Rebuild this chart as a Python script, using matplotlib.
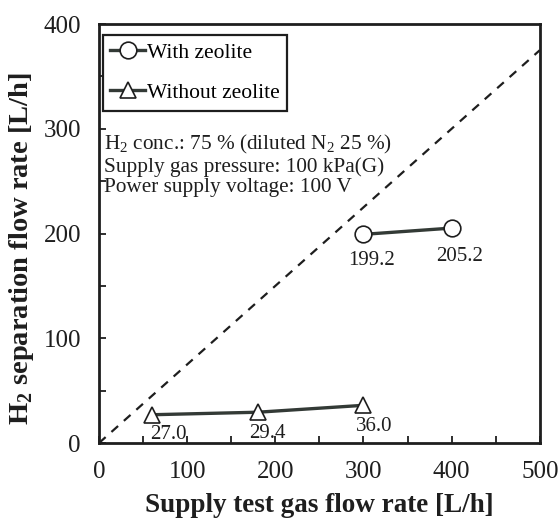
import matplotlib
matplotlib.use("Agg")
import matplotlib.pyplot as plt
from matplotlib.ticker import MultipleLocator

plt.rcParams["font.family"] = ["Liberation Serif", "DejaVu Serif"]
plt.rcParams["mathtext.fontset"] = "custom"
plt.rcParams["mathtext.rm"] = "Liberation Serif"
plt.rcParams["mathtext.bf"] = "Liberation Serif:bold"

# data
with_x = [300, 400]
with_y = [199.2, 205.2]
without_x = [60, 180, 300]
without_y = [27.0, 29.4, 36.0]
ratio_x = [0, 500]
ratio_y = [0, 375]   # 75 % H2 line

# label offsets (pixels) from each point
with_off = [(8, -17), (8, -19)]
without_off = [(16, -10), (10, -12), (11, -12)]

INK = "#1e1e1e"
LINE = "#333a36"

fig = plt.figure(figsize=(5.58, 5.22), dpi=100)
ax = fig.add_axes([0.1774, 0.1513, 0.790, 0.8027])

ax.plot(ratio_x, ratio_y, ls=(0, (4, 3.5)), color=INK, lw=1.6, zorder=2)
ax.plot(with_x, with_y, "-o", color=LINE, lw=2.4, ms=12, mfc="white",
        mec=INK, mew=1.2, label="With zeolite", zorder=3)
ax.plot(without_x, without_y, "-^", color=LINE, lw=2.4, ms=12, mfc="white",
        mec=INK, mew=1.2, label="Without zeolite", zorder=3)

for x, y, off in zip(with_x, with_y, with_off):
    ax.annotate(f"{y:.1f}", (x, y), xytext=off, textcoords="offset pixels",
                ha="center", va="top", fontsize=15, color=INK)
for x, y, off in zip(without_x, without_y, without_off):
    ax.annotate(f"{y:.1f}", (x, y), xytext=off, textcoords="offset pixels",
                ha="center", va="top", fontsize=15, color=INK)

ax.text(6, 296, "H$_2$ conc.: 75 % (diluted N$_2$ 25 %)\n"
        "Supply gas pressure: 100 kPa(G)\nPower supply voltage: 100 V",
        ha="left", va="top", fontsize=15.3, color=INK, linespacing=1.08)

ax.set_xlim(0, 500)
ax.set_ylim(0, 400)
ax.xaxis.set_major_locator(MultipleLocator(100))
ax.xaxis.set_minor_locator(MultipleLocator(50))
ax.yaxis.set_major_locator(MultipleLocator(100))
ax.yaxis.set_minor_locator(MultipleLocator(50))
ax.tick_params(which="both", direction="in", length=5, width=1.3, labelsize=18,
               colors=INK, pad=13, top=False, right=False)
for s in ax.spines.values():
    s.set_linewidth(2)
    s.set_color(INK)

ax.set_xlabel("Supply test gas flow rate [L/h]", fontsize=19.5, fontweight="bold",
              color=INK, labelpad=7)
ax.set_ylabel("H$_\\mathbf{2}$ separation flow rate [L/h]", fontsize=20.5,
              fontweight="bold", color=INK)
ax.yaxis.set_label_coords(-0.142, 0.463)

leg = ax.legend(loc="upper left", bbox_to_anchor=(0.009, 0.974), fontsize=15.5,
                frameon=True, fancybox=False, edgecolor=INK, framealpha=1,
                handlelength=1.6, handletextpad=0.1, labelspacing=0.95,
                borderpad=0.35, borderaxespad=0)
leg.get_frame().set_linewidth(1.6)

fig.savefig("out.png", dpi=100)
